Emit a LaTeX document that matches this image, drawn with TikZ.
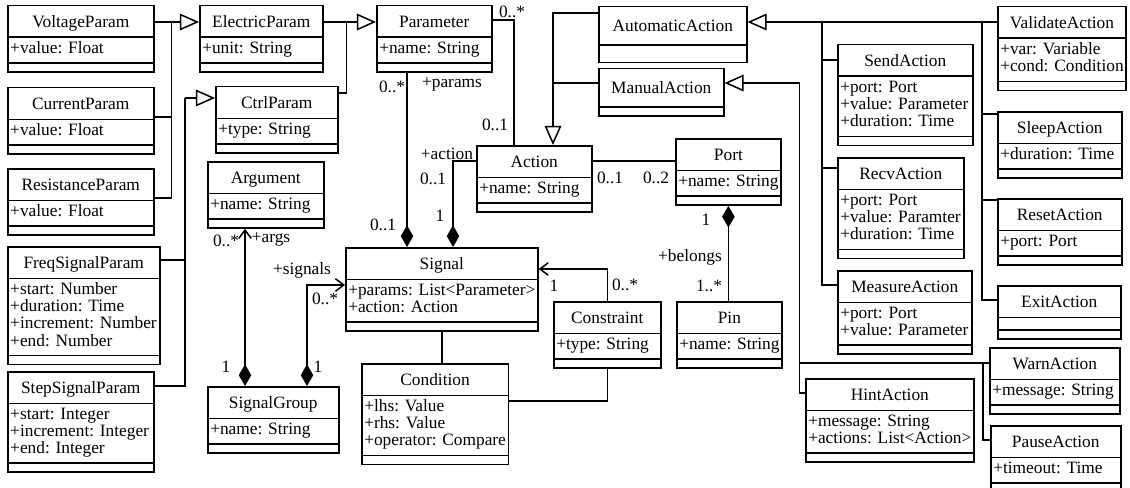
\documentclass[tikz,border=0pt]{standalone}
\usepackage{fontspec}
\setmainfont{Liberation Serif}
\usetikzlibrary{shapes.multipart,arrows.meta,calc}
\newcommand{\cls}[1]{\rule[-3.3pt]{0pt}{13.6pt}#1}
\newcommand{\bigcls}[1]{\rule[-5.4pt]{0pt}{17.8pt}#1}
\newcommand{\nil}{\rule{0pt}{0.1pt}\hspace*{0.1pt}}
\newcommand{\attrs}[1]{\begin{tabular}{@{}l@{}}#1\end{tabular}\nodepart{three}\nil}

\begin{document}
\begin{tikzpicture}[
  x=0.6pt, y=-0.6pt, line width=0.9pt,
  font=\fontsize{10.4}{10.2}\selectfont,
  umlclass/.style={rectangle split, rectangle split parts=3, draw, anchor=north west,
    rectangle split part align={center,left,left},
    inner xsep=1.5pt, inner ysep=2.2pt, minimum width=#1*0.6pt},
  mult/.style={inner sep=0pt},
  inherit/.style={-{Triangle[open,length=11.5pt,width=10pt]}},
  partof/.style={{Diamond[length=13pt,width=7.5pt]}-},
  partnav/.style={{Diamond[length=13pt,width=7.5pt]}-{Straight Barb[length=5pt,width=7.5pt]}},
  nav/.style={-{Straight Barb[length=5pt,width=7.5pt]}}
]
  \useasboundingbox (0,0) rectangle (1130,487);

  % Parameter classes
  \node[umlclass=146] (volt) at (7,5) {\cls{VoltageParam}\nodepart{two}\attrs{+value: Float}};
  \node[umlclass=146] (curr) at (7,87) {\cls{CurrentParam}\nodepart{two}\attrs{+value: Float}};
  \node[umlclass=146] (resist) at (7,168) {\cls{ResistanceParam}\nodepart{two}\attrs{+value: Float}};
  \node[umlclass=152] (freq) at (7,246) {\cls{FreqSignalParam}\nodepart{two}\attrs{+start: Number\\+duration: Time\\+increment: Number\\+end: Number}};
  \node[umlclass=146] (stepsig) at (7,371) {\cls{StepSignalParam}\nodepart{two}\attrs{+start: Integer\\+increment: Integer\\+end: Integer}};
  \node[umlclass=123] (elec) at (199,5) {\cls{ElectricParam}\nodepart{two}\attrs{+unit: String}};
  \node[umlclass=122] (ctrl) at (215,86) {\cls{CtrlParam}\nodepart{two}\attrs{+type: String}};
  \node[umlclass=115] (param) at (376,5) {\cls{Parameter}\nodepart{two}\attrs{+name: String}};

  % Signals
  \node[umlclass=116] (arg) at (207,161) {\cls{Argument}\nodepart{two}\attrs{+name: String}};
  \node[umlclass=131] (siggrp) at (207,386) {\cls{SignalGroup}\nodepart{two}\attrs{+name: String}};
  \node[umlclass=191] (signal) at (345,247) {\cls{Signal}\nodepart{two}\attrs{+params: List<Parameter>\\+action: Action}};
  \node[umlclass=146] (cond) at (361,363) {\cls{Condition}\nodepart{two}\attrs{+lhs: Value\\+rhs: Value\\+operator: Compare}};
  \node[umlclass=107] (constr) at (553,301) {\cls{Constraint}\nodepart{two}\attrs{+type: String}};
  \node[umlclass=104] (pin) at (676,301) {\cls{Pin}\nodepart{two}\attrs{+name: String}};
  \node[umlclass=115] (action) at (476,145) {\cls{Action}\nodepart{two}\attrs{+name: String}};
  \node[umlclass=105] (port) at (675,138) {\cls{Port}\nodepart{two}\attrs{+name: String}};

  % Action classes
  \node[umlclass=148, rectangle split parts=2] (auto) at (598,6) {\bigcls{AutomaticAction}\nodepart{two}\rule{0pt}{5.2pt}};
  \node[umlclass=125, rectangle split parts=2] (manual) at (598,68) {\bigcls{ManualAction}\nodepart{two}\nil};
  \node[umlclass=135] (send) at (837,44) {\cls{SendAction}\nodepart{two}\attrs{+port: Port\\+value: Parameter\\+duration: Time}};
  \node[umlclass=126] (recv) at (837,157) {\cls{RecvAction}\nodepart{two}\attrs{+port: Port\\+value: Paramter\\+duration: Time}};
  \node[umlclass=134] (measure) at (837,270) {\cls{MeasureAction}\nodepart{two}\attrs{+port: Port\\+value: Parameter}};
  \node[umlclass=165] (hint) at (805,378) {\cls{HintAction}\nodepart{two}\attrs{+message: String\\+actions: List<Action>}};
  \node[umlclass=126] (validate) at (997,6) {\cls{ValidateAction}\nodepart{two}\attrs{+var: Variable\\+cond: Condition}};
  \node[umlclass=124] (sleep) at (997,111) {\cls{SleepAction}\nodepart{two}\attrs{+duration: Time}};
  \node[umlclass=124] (reset) at (997,198) {\cls{ResetAction}\nodepart{two}\attrs{+port: Port}};
  \node[umlclass=123] (exit) at (997,285) {\cls{ExitAction}\nodepart{two}\rule{0pt}{2.2pt}\nodepart{three}\nil};
  \node[umlclass=130] (warn) at (989,347) {\cls{WarnAction}\nodepart{two}\attrs{+message: String}};
  \node[umlclass=130] (pause) at (990,425) {\cls{PauseAction}\nodepart{two}\attrs{+timeout: Time}};

  % Parameter hierarchy
  \coordinate (ejoin) at ($(volt.north east)+(17,17)$);
  \draw[inherit] ($(volt.north east)+(0,17)$) -- ($(elec.north west)+(0,17)$);
  \draw ($(curr.north east)+(0,30)$) -| (ejoin);
  \draw ($(resist.north east)+(0,30)$) -| (ejoin);
  \coordinate (pjoin) at ($(elec.north east)+(23,17)$);
  \draw[inherit] ($(elec.north east)+(0,17)$) -- ($(param.north west)+(0,17)$);
  \draw ($(ctrl.north east)+(0,7)$) -| (pjoin);
  \coordinate (cjoin) at ($(ctrl.north west)+(-30,12)$);
  \draw[inherit] (cjoin) -- ($(ctrl.north west)+(0,12)$);
  \draw ($(freq.north east)+(0,14)$) -| (cjoin);
  \draw ($(stepsig.north east)+(0,15)$) -| (cjoin);

  % Action hierarchy
  \coordinate (ajoin) at ($(action.north west)+(77,0)$);
  \draw[inherit] ($(auto.north west)+(0,7)$) -| (ajoin);
  \draw ($(manual.north west)+(0,15)$) coordinate (mw) -- (mw -| ajoin);
  \coordinate (sj) at ($(auto.north east -| send.west)+(-15,16)$);
  \coordinate (vj) at ($(auto.north east -| validate.west)+(-15,16)$);
  \draw[inherit] ($(validate.north west)+(0,16)$) -- ($(auto.north east)+(0,16)$);
  \draw ($(send.north west)+(0,16)$) -| (sj);
  \draw ($(recv.north west)+(0,11)$) -| (sj);
  \draw ($(measure.north west)+(0,15)$) -| (sj);
  \draw ($(sleep.north west)+(0,3)$) -| (vj);
  \draw ($(reset.north west)+(0,2)$) -| (vj);
  \draw ($(exit.north west)+(0,15)$) -| (vj);
  \coordinate (hj) at ($(manual.north east)+(75,15)$);
  \draw[inherit] ($(hint.north west)+(0,15)$) -| (hj) -- ($(manual.north east)+(0,15)$);
  \draw ($(warn.north west)+(0,16)$) coordinate (ws) -- (ws -| hj);
  \coordinate (wj) at ($(warn.north west)+(-6,16)$);
  \draw ($(pause.north west)+(0,15)$) -| (wj);

  % Associations
  \draw ($(param.north east)+(0,15)$) -| ($(action.north west)+(38,0)$);
  \draw[partof] ($(signal.north west)+(62,0)$) -- ($(param.south west)+(31,0)$);
  \draw[partof] ($(signal.north west)+(108,0)$) |- ($(action.north west)+(0,16)$);
  \draw ($(action.north east)+(0,16)$) -- ($(port.north west)+(0,23)$);
  \draw[partof] (port.south) -- (port.south |- pin.north);
  \draw[nav] (constr.north) |- ($(signal.north east)+(0,22)$);
  \draw (constr.south) |- ($(cond.north east)+(0,38)$);
  \draw (signal.south) -- (signal.south |- cond.north);
  \draw[partnav] ($(siggrp.north west)+(38,0)$) -- ($(arg.south west)+(38,0)$);
  \draw[partnav] ($(siggrp.north west)+(100,0)$) |- ($(signal.north west)+(0,38)$);

  % Multiplicities and roles
  \node[mult] (params-many) at (512,12) {0..*};
  \node[mult] (params-role) at (452,84) {+params};
  \node[mult] (params-one) at (495,125) {0..1};
  \node[mult] (sigparam-many) at (392,87) {0..*};
  \node[mult] (sigparam-one) at (383,225) {0..1};
  \node[mult] (action-role) at (447,154) {+action};
  \node[mult] (action-one) at (433,179) {0..1};
  \node[mult] (sigaction-one) at (440,216) {1};
  \node[mult] (port-action) at (610,178) {0..1};
  \node[mult] (port-two) at (656,178) {0..2};
  \node[mult] (pin-one) at (706,220) {1};
  \node[mult] (pin-role) at (690,257) {+belongs};
  \node[mult] (pin-many) at (709,286) {1..*};
  \node[mult] (constr-one) at (554,286) {1};
  \node[mult] (constr-many) at (625,285) {0..*};
  \node[mult] (args-many) at (226,241) {0..*};
  \node[mult] (args-role) at (271,239) {+args};
  \node[mult] (args-one) at (226,367) {1};
  \node[mult] (signals-role) at (302,270) {+signals};
  \node[mult] (signals-many) at (325,299) {0..*};
  \node[mult] (signals-one) at (318,367) {1};
\end{tikzpicture}
\end{document}
